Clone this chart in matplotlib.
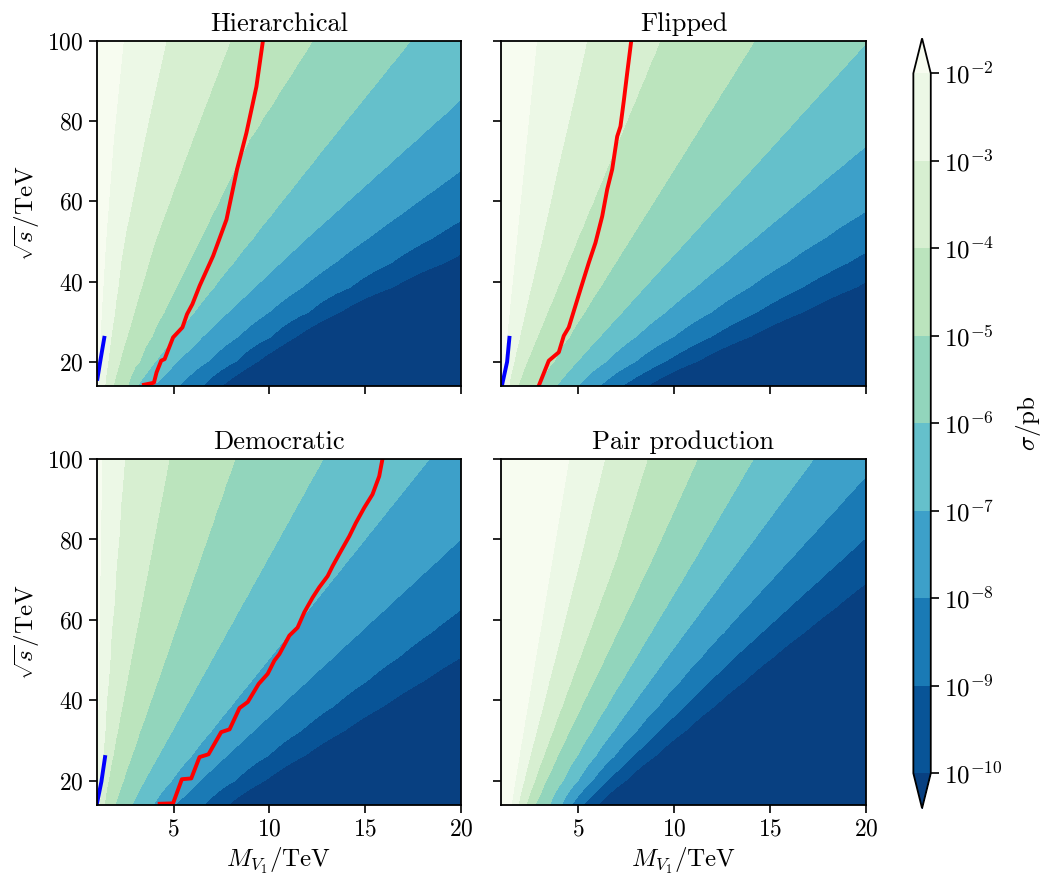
import numpy as np
import matplotlib
matplotlib.use("Agg")
import matplotlib.pyplot as plt
from matplotlib.ticker import FuncFormatter

plt.rcParams['font.family'] = 'serif'
plt.rcParams['font.serif'] = ['cmr10']
plt.rcParams['mathtext.fontset'] = 'cm'
plt.rcParams['axes.formatter.use_mathtext'] = True
plt.rcParams['axes.unicode_minus'] = False

# --- contour levels: log10(sigma/pb) ---
LEVELS = [-10, -9, -8, -7, -6, -5, -4, -3, -2]

# --- boundary positions M_V1 (TeV) of each level, read at these sqrt(s) rows ---
S_ROWS = [14.3, 30, 50, 75, 100]
# rows of each table: level -2, -3, ..., -10
HIER_BOUNDS = [
    [1.05, 1.20, 1.45, 1.85, 2.37],
    [1.40, 1.83, 2.38, 3.45, 4.58],
    [1.80, 2.77, 4.00, 5.94, 7.93],
    [2.63, 4.25, 6.32, 8.87, 12.23],
    [3.07, 5.67, 9.00, 13.14, 17.34],
    [3.90, 7.30, 11.75, 17.60, 23.40],
    [5.30, 9.30, 14.90, 22.10, 29.10],
    [6.50, 11.20, 18.20, 26.90, 35.50],
    [7.50, 12.60, 21.50, 32.80, 44.00],
]
FLIP_BOUNDS = [
    [1.05, 1.38, 1.80, 2.32, 2.85],
    [1.40, 2.14, 3.09, 4.27, 5.45],
    [1.80, 3.17, 4.91, 7.08, 9.26],
    [3.00, 5.05, 7.65, 10.91, 14.17],
    [3.87, 6.84, 10.63, 15.37, 20.10],
    [5.00, 8.96, 14.00, 20.30, 26.60],
    [6.13, 11.16, 17.57, 25.59, 33.60],
    [7.30, 13.36, 21.09, 30.74, 40.40],
    [8.60, 15.62, 24.56, 35.73, 46.90],
]
DEMO_BOUNDS = [
    [0.98, 1.03, 1.09, 1.17, 1.25],
    [1.10, 1.34, 1.64, 2.02, 2.40],
    [1.32, 1.95, 2.75, 3.76, 4.76],
    [1.93, 3.07, 4.53, 6.36, 8.18],
    [2.80, 4.63, 6.96, 9.87, 12.78],
    [3.92, 6.56, 9.92, 14.13, 18.33],
    [5.05, 8.62, 13.17, 18.86, 24.55],
    [6.61, 10.97, 16.53, 23.47, 30.42],
    [7.83, 13.08, 19.77, 28.12, 36.48],
]
PAIR_BOUNDS = [
    [1.53, 2.08, 2.78, 3.66, 4.53],
    [1.88, 2.71, 3.78, 5.10, 6.39],
    [2.31, 3.52, 5.06, 6.99, 8.61],
    [2.75, 4.30, 6.35, 8.84, 11.22],
    [3.53, 5.43, 7.95, 11.07, 14.13],
    [4.14, 6.49, 9.52, 13.39, 17.26],
    [4.66, 7.62, 11.28, 16.06, 20.81],
    [5.26, 8.70, 12.97, 18.74, 24.49],
    [6.04, 9.99, 14.96, 21.56, 28.15],
]

# --- red curves (M_V1, sqrt s) ---
HIER_RED_M = [3.45, 3.97, 4.11, 4.35, 4.53, 4.97, 5.46, 5.70, 5.98, 6.36, 7.06, 7.76, 8.31, 8.80, 9.32, 9.66]
HIER_RED_S = [14.3, 14.8, 17.4, 20.3, 20.7, 26.1, 28.6, 31.9, 34.4, 39.0, 46.4, 55.5, 68.0, 77.1, 88.6, 100]
FLIP_RED_M = [2.99, 3.49, 4.01, 4.27, 4.53, 5.14, 5.57, 5.92, 6.27, 6.53, 6.79, 7.05, 7.22, 7.40, 7.57, 7.78]
FLIP_RED_S = [14.3, 20.3, 22.4, 26.5, 28.6, 38.1, 44.7, 49.7, 56.3, 63.0, 68.0, 76.2, 78.7, 85.3, 92.0, 100]
DEMO_RED_M = [4.27, 4.97, 5.43, 5.92, 6.35, 6.82, 7.48, 7.92, 8.44, 8.87, 9.44, 9.91, 10.26, 10.52,
              11.04, 11.47, 11.82, 12.26, 12.60, 13.04, 13.30, 13.73, 14.17, 14.51, 14.95, 15.38, 15.73, 15.90]
DEMO_RED_S = [14.3, 14.4, 20.4, 20.6, 25.9, 26.6, 32.1, 32.8, 38.1, 39.6, 44.1, 46.6, 49.9, 51.5,
              56.1, 58.1, 61.9, 65.6, 68.1, 70.9, 73.4, 77.1, 80.8, 84.1, 87.9, 91.2, 95.7, 100]

# --- blue curves ---
HIER_BLUE_M = [1.02, 1.20, 1.38]
HIER_BLUE_S = [15.8, 21.0, 26.0]
FLIP_BLUE_M = [1.06, 1.32, 1.44]
FLIP_BLUE_S = [14.3, 20.0, 26.0]
DEMO_BLUE_M = [1.00, 1.23, 1.42]
DEMO_BLUE_S = [14.4, 19.8, 25.9]

TITLES = ["Hierarchical", "Flipped", "Democratic", "Pair production"]


def build_field(bounds, m_grid, s_grid):
    lev = list(LEVELS[::-1])
    z = np.zeros((len(s_grid), len(m_grid)))
    for i, s in enumerate(s_grid):
        pos = [np.interp(s, S_ROWS, b) for b in bounds]
        # carry the outer slopes on past the first and last level
        left = pos[0] - 20 * (pos[1] - pos[0])
        right = pos[-1] + 20 * (pos[-1] - pos[-2])
        z[i] = np.interp(m_grid, [left] + pos + [right], [lev[0] + 20] + lev + [lev[-1] - 20])
    return z


m_grid = np.linspace(1, 20, 77)
s_grid = np.linspace(14, 100, 15)
M, S = np.meshgrid(m_grid, s_grid)

fig = plt.figure(figsize=(10.43, 8.81), dpi=100)
boxes = [
    [0.0930, 0.5619, 0.3490, 0.3916],
    [0.4803, 0.5619, 0.3500, 0.3916],
    [0.0930, 0.0863, 0.3490, 0.3927],
    [0.4803, 0.0863, 0.3500, 0.3927],
]
all_bounds = [HIER_BOUNDS, FLIP_BOUNDS, DEMO_BOUNDS, PAIR_BOUNDS]
reds = [(HIER_RED_M, HIER_RED_S), (FLIP_RED_M, FLIP_RED_S), (DEMO_RED_M, DEMO_RED_S), None]
blues = [(HIER_BLUE_M, HIER_BLUE_S), (FLIP_BLUE_M, FLIP_BLUE_S), (DEMO_BLUE_M, DEMO_BLUE_S), None]

cs0 = None
for k in range(4):
    ax = fig.add_axes(boxes[k])
    Z = build_field(all_bounds[k], m_grid, s_grid)
    cs = ax.contourf(M, S, Z, levels=LEVELS, cmap='GnBu_r', extend='both')
    if cs0 is None:
        cs0 = cs
    if reds[k] is not None:
        ax.plot(reds[k][0], reds[k][1], color='red', lw=2.8)
    if blues[k] is not None:
        ax.plot(blues[k][0], blues[k][1], color='blue', lw=2.8)
    ax.set_xlim(1, 20)
    ax.set_ylim(14, 100)
    ax.set_xticks([5, 10, 15, 20])
    ax.set_yticks([20, 40, 60, 80, 100])
    ax.tick_params(direction='out', length=6, width=1.2, labelsize=17)
    for sp in ax.spines.values():
        sp.set_linewidth(1.3)
    ax.set_title(TITLES[k], fontsize=19, pad=7)
    if k in (0, 2):
        ax.set_ylabel(r'$\sqrt{s}/\mathrm{TeV}$', fontsize=18, labelpad=4)
    else:
        ax.set_yticklabels([])
    if k in (2, 3):
        ax.set_xlabel(r'$M_{V_1}/\mathrm{TeV}$', fontsize=18, labelpad=4)
    else:
        ax.set_xticklabels([])

cax = fig.add_axes([0.8757, 0.0825, 0.0167, 0.874])
cb = fig.colorbar(cs0, cax=cax, ticks=LEVELS)
cb.ax.yaxis.set_major_formatter(FuncFormatter(lambda v, p: r'$10^{%d}$' % int(round(v))))
cb.ax.tick_params(length=6, width=1.2, labelsize=18)
cb.outline.set_linewidth(1.3)
cb.set_label(r'$\sigma/\mathrm{pb}$', fontsize=18, labelpad=8)

fig.savefig('out.png', dpi=100)
